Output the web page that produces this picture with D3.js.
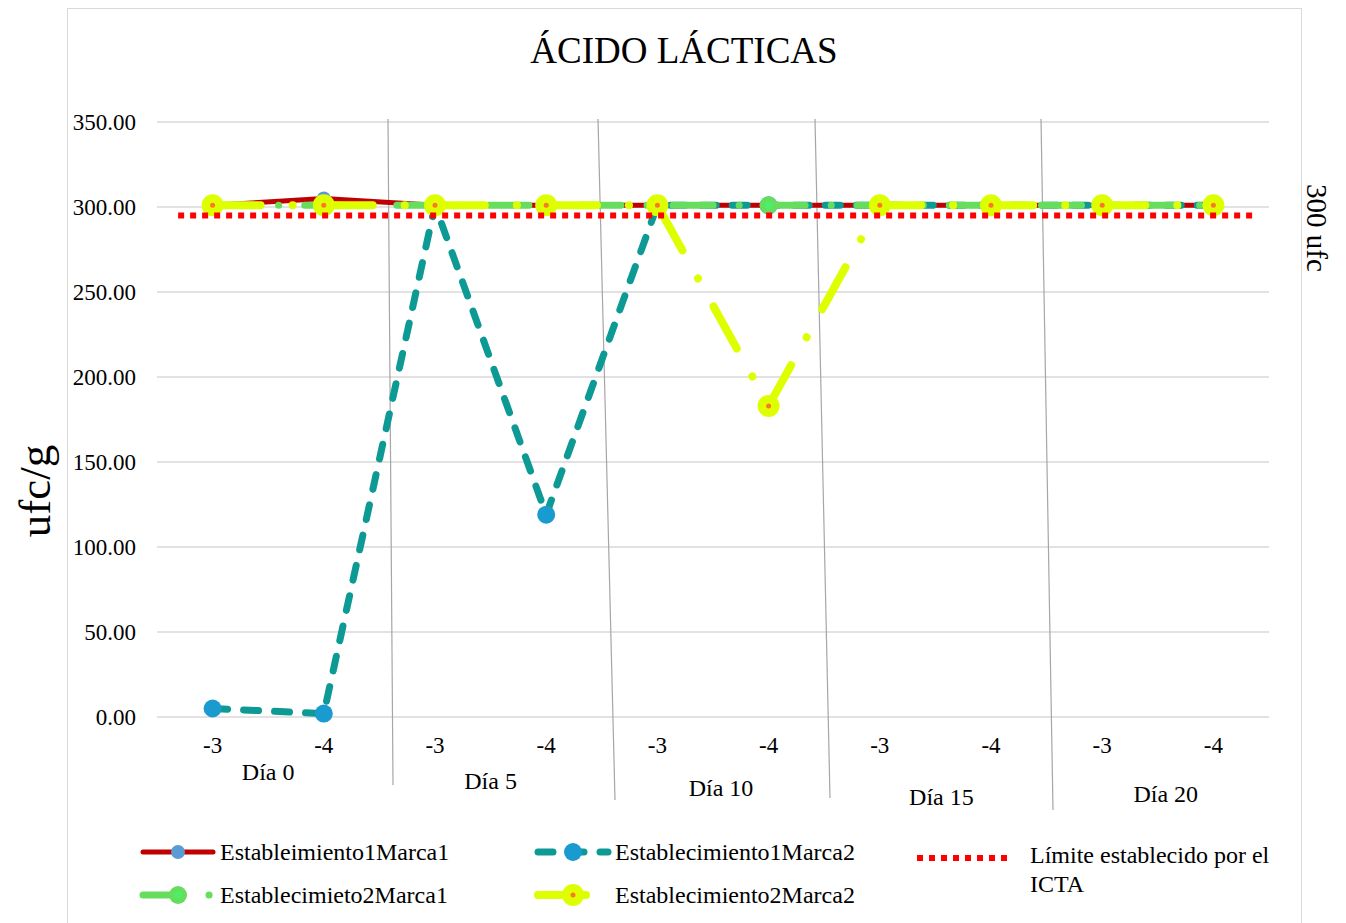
<!DOCTYPE html>
<html><head><meta charset="utf-8">
<script src="https://cdn.jsdelivr.net/npm/d3@7"></script>
<style>body{margin:0;background:#fff}svg{display:block}text{font-family:"Liberation Serif","Times New Roman",serif;fill:#000}</style>
</head><body><svg id="c" width="1346" height="923"></svg>
<script>
const categories = ["-3","-4","-3","-4","-3","-4","-3","-4","-3","-4"];
const dayLabels = ["Día 0","Día 5","Día 10","Día 15","Día 20"];
const yTicks = [0,50,100,150,200,250,300,350];
const e1m1 = [301,305,301,301,301,301,301,301,301,301];
const e1m2 = [5,2,301,119,301,301,301,301,301,301];
const e2m1 = [301,301,301,301,301,301,301,301,301,301];
const e2m2 = [301,301,301,301,301,183,301,301,301,301];
const limitValue = 295;
const title = "ÁCIDO LÁCTICAS";
const yTitle = "ufc/g";
const y2Title = "300 ufc";

const svg = d3.select("#c");
const L=157,R=1269,T=122,B=717;
const x = d3.scaleBand().domain(d3.range(categories.length)).range([L,R]).paddingInner(0).paddingOuter(0);
const cx = i => x(i)+x.bandwidth()/2;
const y = d3.scaleLinear().domain([0,350]).range([B,T]);

// frame
svg.append("rect").attr("x",67.5).attr("y",8.5).attr("width",1234).attr("height",930).attr("fill","none").attr("stroke","#d9d9d9");

svg.append("text").attr("x",684).attr("y",63).attr("text-anchor","middle").attr("font-size",37).text(title);

// gridlines
svg.append("g").selectAll("line").data(yTicks).join("line")
 .attr("x1",L).attr("x2",R).attr("y1",d=>y(d)).attr("y2",d=>y(d)).attr("stroke","#d9d9d9").attr("stroke-width",1.5);
svg.append("g").selectAll("text").data(yTicks).join("text")
 .attr("x",136).attr("y",d=>y(d)).attr("dy","0.35em").attr("text-anchor","end").attr("font-size",23).text(d=>d.toFixed(2));

// x tick labels
svg.append("g").selectAll("text").data(categories).join("text")
 .attr("x",(d,i)=>cx(i)).attr("y",745).attr("dy","0.35em").attr("text-anchor","middle").attr("font-size",23).text(d=>d);

// day labels (text boxes, slightly staggered)
const dayDY=[772,781,788,797,794], dayDX=[0,0,8,6,8];
svg.append("g").selectAll("text").data(dayLabels).join("text")
 .attr("x",(d,i)=>x(2*i+1)+dayDX[i]).attr("y",(d,i)=>dayDY[i]).attr("dy","0.35em").attr("text-anchor","middle").attr("font-size",24).text(d=>d);

// divider lines (hand-drawn shapes)
const divTop=[8.6,-3.8,-9.2,-5.6], divBot=[13.6,13.2,5.8,6.4], divBotY=[785,800,798,810];
svg.append("g").selectAll("line").data(d3.range(4)).join("line")
 .attr("x1",i=>x(2*i+2)+divTop[i]).attr("y1",119)
 .attr("x2",i=>x(2*i+2)+divBot[i]).attr("y2",i=>divBotY[i])
 .attr("stroke","#a6a6a6").attr("stroke-width",1.2);

// axis titles
svg.append("text").attr("transform","translate(50,491) rotate(-90)").attr("text-anchor","middle").attr("font-size",45).text(yTitle);
svg.append("text").attr("transform","translate(1307,228) rotate(90)").attr("text-anchor","middle").attr("font-size",29).text(y2Title);

const line = d3.line().x((d,i)=>cx(i)).y(d=>y(d));
const series = [
 {data:e1m1,color:"#c00000",w:5,dash:null,mk:"#5b9bd5",r:7,inner:null},
 {data:e1m2,color:"#0e9a94",w:7,dash:"15,16",mk:"#1a9bd0",r:9,inner:null},
 {data:e2m1,color:"#66dd5c",w:7,dash:"40,26,0.1,26",mk:"#66dd5c",r:9,inner:"#4dee6a"},
 {data:e2m2,color:"#ddff00",w:8,dash:"48,32,0.1,32",mk:"#ddff00",r:11,inner:"#ff7722"}
];
series.forEach(s=>{
 const g=svg.append("g");
 g.append("path").attr("d",line(s.data)).attr("fill","none").attr("stroke",s.color).attr("stroke-width",s.w)
  .attr("stroke-linecap","round").attr("stroke-linejoin","round").attr("stroke-dasharray",s.dash);
 g.selectAll("circle.m").data(s.data).join("circle").attr("class","m").attr("cx",(d,i)=>cx(i)).attr("cy",d=>y(d)).attr("r",s.r).attr("fill",s.mk);
 if(s.inner) g.selectAll("circle.i").data(s.data).join("circle").attr("class","i").attr("cx",(d,i)=>cx(i)).attr("cy",d=>y(d)).attr("r",s===series[3]?2.5:4).attr("fill",s.inner);
});

// limit line
svg.append("line").attr("x1",L+0.19*x.bandwidth()).attr("x2",R-0.125*x.bandwidth())
 .attr("y1",y(limitValue)).attr("y2",y(limitValue)).attr("stroke","#ff0000").attr("stroke-width",6).attr("stroke-dasharray","6,6");

// legend
const leg=[
 {s:series[0],x:143,y:852,t:"Estableimiento1Marca1"},
 {s:series[1],x:538,y:852,t:"Establecimiento1Marca2"},
 {s:series[2],x:143,y:895,t:"Establecimieto2Marca1"},
 {s:series[3],x:538,y:895,t:"Establecimiento2Marca2"}
];
leg.forEach(l=>{
 const g=svg.append("g");
 g.append("line").attr("x1",l.x).attr("x2",l.x+70).attr("y1",l.y).attr("y2",l.y).attr("stroke",l.s.color).attr("stroke-width",l.s.w)
  .attr("stroke-linecap","round").attr("stroke-dasharray",l.s.dash);
 g.append("circle").attr("cx",l.x+35).attr("cy",l.y).attr("r",l.s.r).attr("fill",l.s.mk);
 if(l.s.inner) g.append("circle").attr("cx",l.x+35).attr("cy",l.y).attr("r",l.s===series[3]?2.5:4).attr("fill",l.s.inner);
 g.append("text").attr("x",l.x+77).attr("y",l.y).attr("dy","0.35em").attr("font-size",24).text(l.t);
});
svg.append("line").attr("x1",917).attr("x2",1009).attr("y1",858).attr("y2",858).attr("stroke","#ff0000").attr("stroke-width",6).attr("stroke-dasharray","6,6");
svg.append("text").attr("x",1030).attr("y",855).attr("dy","0.35em").attr("font-size",24).text("Límite establecido por el");
svg.append("text").attr("x",1030).attr("y",884).attr("dy","0.35em").attr("font-size",24).text("ICTA");
</script></body></html>
